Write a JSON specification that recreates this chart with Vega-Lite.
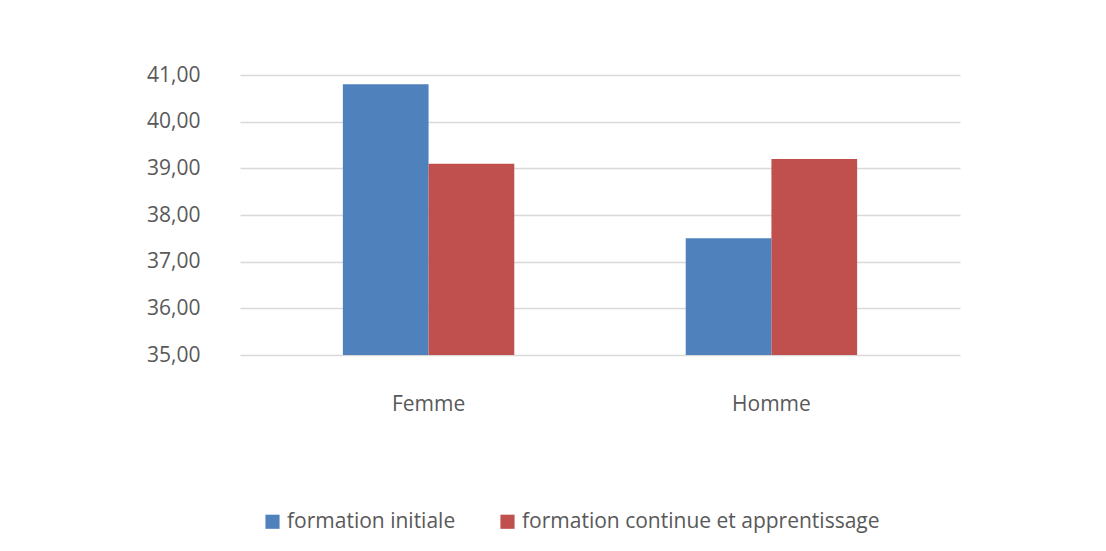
{
  "$schema": "https://vega.github.io/schema/vega-lite/v6.json",
  "autosize": {"type": "none"},
  "width": 720,
  "height": 280,
  "padding": {"left": 240, "top": 75, "right": 146, "bottom": 196},
  "background": "white",
  "data": {
    "values": [
      {"sexe": "Femme", "serie": "formation initiale", "valeur": 40.8},
      {"sexe": "Femme", "serie": "formation continue et apprentissage", "valeur": 39.1},
      {"sexe": "Homme", "serie": "formation initiale", "valeur": 37.5},
      {"sexe": "Homme", "serie": "formation continue et apprentissage", "valeur": 39.2}
    ]
  },
  "mark": {"type": "bar", "clip": true},
  "encoding": {
    "x": {
      "field": "sexe",
      "type": "nominal",
      "title": null,
      "scale": {"paddingInner": 0.5, "paddingOuter": 0.3},
      "axis": {"labelAngle": 0, "domain": false, "ticks": false, "labelPadding": 38, "labelFontSize": 21, "labelColor": "#595959", "labelFont": "Open Sans"}
    },
    "xOffset": {
      "field": "serie",
      "type": "nominal",
      "sort": ["formation initiale", "formation continue et apprentissage"]
    },
    "y": {
      "field": "valeur",
      "type": "quantitative",
      "title": null,
      "scale": {"domain": [35, 41], "zero": false, "nice": false},
      "axis": {
        "values": [35, 36, 37, 38, 39, 40, 41],
        "labelExpr": "replace(format(datum.value, '.2f'), '.', ',')",
        "domain": false,
        "ticks": false,
        "labelPadding": 40,
        "labelFontSize": 21,
        "labelColor": "#595959",
        "labelFont": "Open Sans",
        "gridColor": "#d9d9d9",
        "gridWidth": 1.5
      }
    },
    "color": {
      "field": "serie",
      "type": "nominal",
      "title": null,
      "sort": ["formation initiale", "formation continue et apprentissage"],
      "scale": {"domain": ["formation initiale", "formation continue et apprentissage"], "range": ["#4F81BD", "#C0504D"]},
      "legend": {
        "orient": "none",
        "legendX": 22,
        "legendY": 436,
        "direction": "horizontal",
        "symbolType": "square",
        "symbolSize": 200,
        "symbolStrokeWidth": 0,
        "symbolOpacity": 1,
        "labelFontSize": 21,
        "labelFont": "Open Sans",
        "labelColor": "#595959",
        "labelOffset": 4,
        "columnPadding": 41,
        "labelLimit": 500
      }
    }
  },
  "config": {
    "view": {"stroke": null}
  }
}
